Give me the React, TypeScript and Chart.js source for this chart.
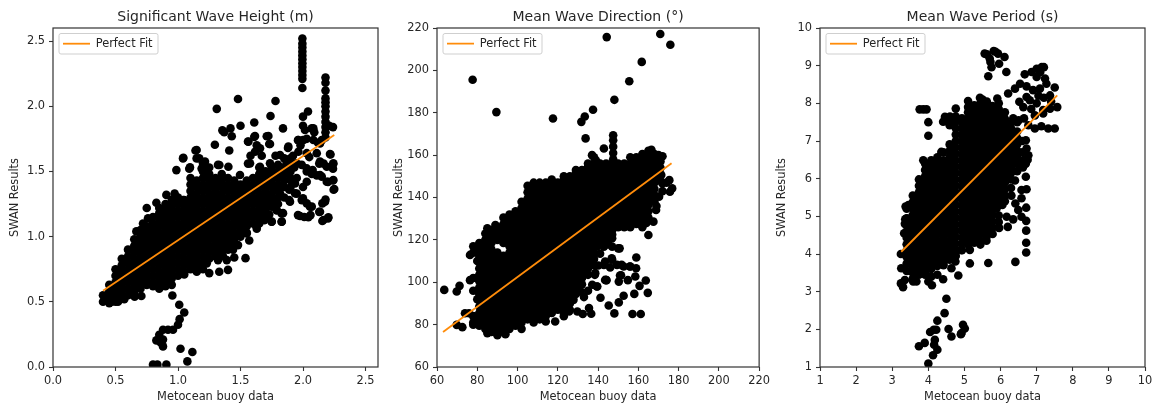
import React, { useEffect, useRef } from "react";
import { Chart, registerables } from "chart.js";

Chart.register(...registerables);

type Column = [number, number[]];
type Pair = [number, number];

// ---- Significant Wave Height ----
const hsCore: Column[] = [
  [0.4, [0.5, 0.55]],
  [0.45, [0.49, 0.53, 0.58, 0.63]],
  [0.5, [0.5, 0.55, 0.6, 0.65, 0.7, 0.75]],
  [0.55, [0.53, 0.58, 0.63, 0.68, 0.73, 0.78, 0.83]],
  [0.6, [0.55, 0.6, 0.65, 0.7, 0.75, 0.8, 0.85, 0.9]],
  [0.65, [0.55, 0.58, 0.63, 0.68, 0.73, 0.78, 0.83, 0.88, 0.93, 0.98]],
  [0.7, [0.6, 0.65, 0.7, 0.75, 0.8, 0.85, 0.9, 0.95, 1.0, 1.05]],
  [0.75, [0.63, 0.68, 0.73, 0.78, 0.83, 0.88, 0.93, 0.98, 1.03, 1.08]],
  [0.8, [0.62, 0.65, 0.7, 0.75, 0.8, 0.85, 0.9, 0.95, 1.0, 1.05, 1.1, 1.15]],
  [0.85, [0.6, 0.63, 0.68, 0.73, 0.78, 0.83, 0.88, 0.93, 0.98, 1.03, 1.08, 1.13, 1.18]],
  [0.9, [0.62, 0.65, 0.7, 0.75, 0.8, 0.85, 0.9, 0.95, 1.0, 1.05, 1.1, 1.15, 1.2, 1.25]],
  [0.95, [0.63, 0.68, 0.73, 0.78, 0.83, 0.88, 0.93, 0.98, 1.03, 1.08, 1.13, 1.18, 1.23, 1.28]],
  [1.0, [0.7, 0.75, 0.8, 0.85, 0.9, 0.95, 1.0, 1.05, 1.1, 1.15, 1.2, 1.25, 1.3]],
  [1.05, [0.71, 0.73, 0.78, 0.83, 0.88, 0.93, 0.98, 1.03, 1.08, 1.13, 1.18, 1.23, 1.28]],
  [1.1, [0.75, 0.8, 0.85, 0.9, 0.95, 1.0, 1.05, 1.1, 1.15, 1.2, 1.25, 1.3, 1.35, 1.4, 1.45]],
  [1.15, [0.73, 0.78, 0.83, 0.88, 0.93, 0.98, 1.03, 1.08, 1.13, 1.18, 1.23, 1.28, 1.33, 1.38, 1.43]],
  [1.2, [0.75, 0.8, 0.85, 0.9, 0.95, 1.0, 1.05, 1.1, 1.15, 1.2, 1.25, 1.3, 1.35, 1.4, 1.45, 1.5]],
  [1.25, [0.83, 0.88, 0.93, 0.98, 1.03, 1.08, 1.13, 1.18, 1.23, 1.28, 1.33, 1.38, 1.43, 1.48, 1.53]],
  [1.3, [0.85, 0.9, 0.95, 1.0, 1.05, 1.1, 1.15, 1.2, 1.25, 1.3, 1.35, 1.4, 1.45]],
  [1.35, [0.88, 0.93, 0.98, 1.03, 1.08, 1.13, 1.18, 1.23, 1.28, 1.33, 1.38, 1.43, 1.48]],
  [1.4, [0.9, 0.95, 1.0, 1.05, 1.1, 1.15, 1.2, 1.25, 1.3, 1.35, 1.4, 1.45]],
  [1.45, [0.93, 0.98, 1.03, 1.08, 1.13, 1.18, 1.23, 1.28, 1.33, 1.38, 1.43]],
  [1.5, [1.0, 1.05, 1.1, 1.15, 1.2, 1.25, 1.3, 1.35, 1.4]],
  [1.55, [1.03, 1.08, 1.13, 1.18, 1.23, 1.28, 1.33, 1.38, 1.43]],
  [1.6, [1.1, 1.15, 1.2, 1.25, 1.3, 1.35, 1.4, 1.45]],
  [1.65, [1.13, 1.18, 1.23, 1.28, 1.33, 1.38, 1.43, 1.48, 1.53]],
  [1.7, [1.15, 1.2, 1.25, 1.3, 1.35, 1.4, 1.45, 1.5]],
  [1.75, [1.23, 1.28, 1.33, 1.38, 1.43, 1.48, 1.53]],
  [1.8, [1.25, 1.3, 1.35, 1.4, 1.45, 1.5, 1.55]],
  [1.85, [1.3, 1.38, 1.43, 1.48, 1.53, 1.6]],
  [1.9, [1.38, 1.45, 1.5, 1.55, 1.6]],
];
const hsScattered: Pair[] = [
  [1.995, 2.14], [1.995, 2.21], [1.995, 2.24], [1.995, 2.27], [1.995, 2.3], [1.995, 2.33], [1.995, 2.36],
  [1.995, 2.39], [1.995, 2.42], [1.995, 2.45], [1.995, 2.48], [1.995, 2.52],
  [2.18, 2.22], [2.18, 2.18], [2.18, 2.12], [2.18, 2.06], [2.18, 2.03], [2.18, 2.0], [2.18, 1.96], [2.18, 1.92],
  [2.18, 1.88], [2.18, 1.84], [2.18, 1.8], [2.18, 1.76],
  [1.48, 2.055], [1.78, 2.04], [1.31, 1.98], [1.74, 1.925], [2.0, 1.92], [2.04, 1.96], [1.355, 1.815], [1.42, 1.83],
  [1.5, 1.85], [1.61, 1.875], [1.84, 1.83], [1.43, 1.77], [1.37, 1.8], [1.295, 1.705], [1.41, 1.66], [1.14, 1.66],
  [1.61, 1.765], [1.56, 1.73], [1.71, 1.77], [1.73, 1.71], [1.63, 1.7], [1.88, 1.68], [1.96, 1.74], [2.0, 1.85],
  [2.0, 1.74], [2.07, 1.83], [2.09, 1.8], [2.21, 1.85], [2.24, 1.84], [2.22, 1.63], [2.24, 1.555], [2.24, 1.52],
  [2.24, 1.43], [2.245, 1.36], [2.2, 1.42], [2.165, 1.56], [2.13, 1.56], [2.11, 1.64], [2.05, 1.61], [1.04, 1.6],
  [0.987, 1.51], [1.09, 1.52], [1.17, 1.6], [1.2, 1.56], [1.32, 1.55], [1.56, 1.56], [1.58, 1.62], [1.67, 1.62],
  [1.78, 1.62], [1.92, 1.62], [1.98, 1.7], [2.03, 1.75], [2.12, 1.72], [2.15, 1.74],
  [1.89, 1.28], [1.95, 1.33], [2.0, 1.38], [2.07, 1.48], [2.15, 1.46], [1.99, 1.28], [2.03, 1.255], [1.96, 1.165],
  [2.01, 1.15], [2.06, 1.165], [2.13, 1.19], [2.155, 1.255], [2.18, 1.285], [2.155, 1.12], [2.2, 1.14], [2.07, 1.23],
  [1.84, 1.18], [1.83, 1.115], [1.75, 1.115], [1.69, 1.125], [1.63, 1.06], [1.54, 0.835], [1.45, 0.84], [1.48, 0.935],
  [1.39, 0.82], [1.4, 0.745], [1.33, 0.73], [1.25, 0.72], [1.32, 0.82], [1.23, 0.795], [1.55, 1.025], [1.79, 1.2],
  [1.89, 1.36], [1.95, 1.45], [1.93, 1.53], [1.99, 1.55], [2.03, 1.5], [2.11, 1.47], [1.57, 0.97], [1.65, 1.1],
  [1.73, 1.17], [1.36, 0.85], [1.44, 0.9],
  [0.955, 0.548], [1.01, 0.477], [1.05, 0.418], [1.013, 0.367], [1.0, 0.324], [0.96, 0.286], [0.92, 0.286], [0.88, 0.286],
  [0.85, 0.247], [0.827, 0.204], [0.88, 0.21], [0.86, 0.19], [0.88, 0.158], [1.02, 0.14], [1.115, 0.115], [1.075, 0.043],
  [0.8, 0.018], [0.835, 0.018], [0.907, 0.018],
  [0.75, 1.22], [0.827, 1.26], [0.907, 1.32], [0.973, 1.33], [0.76, 1.14], [0.667, 1.04], [1.04, 1.28], [0.653, 0.54],
  [0.707, 0.545], [0.42, 0.52], [0.47, 0.5], [0.52, 0.5], [0.57, 0.52], [0.85, 1.22], [0.72, 1.1],
  [1.563, 1.728], [1.616, 1.772], [1.723, 1.772], [1.736, 1.71], [1.616, 1.651], [1.656, 1.677], [1.883, 1.69], [1.963, 1.741],
  [1.963, 1.651], [2.016, 1.818], [2.083, 1.83], [2.083, 1.741], [2.136, 1.715], [2.03, 1.64], [2.136, 1.575], [2.216, 1.633],
  [2.19, 1.536], [2.243, 1.562], [2.243, 1.434], [2.25, 1.365], [2.077, 1.511], [2.136, 1.472], [2.19, 1.421], [2.03, 1.523],
  [1.949, 1.562], [1.816, 1.626], [1.736, 1.562], [1.576, 1.562], [1.496, 1.472], [1.656, 1.536], [1.869, 1.562],
  [1.331, 1.549], [1.403, 1.536], [1.149, 1.664], [1.216, 1.575], [1.149, 1.6], [1.096, 1.531], [1.189, 1.523], [1.043, 1.605],
  [2.03, 1.421], [1.936, 1.332], [1.896, 1.268], [2.0, 1.293], [2.056, 1.229], [2.136, 1.191], [1.976, 1.158], [2.043, 1.148],
  [2.176, 1.268], [2.163, 1.127], [2.203, 1.148], [1.829, 1.178], [1.829, 1.114], [1.749, 1.114], [1.704, 1.148], [1.629, 1.076],
  [1.789, 1.204], [1.736, 1.255], [1.936, 1.408], [1.816, 1.332], [1.896, 1.434],
];
const hsFit: Pair[] = [[0.4, 0.585], [2.25, 1.78]];

// ---- Mean Wave Direction ----
const dirCore: Column[] = [
  [78, [81, 84, 96, 102, 114, 117]],
  [81, [79.5, 82.5, 85.5, 88.5, 91.5, 94.5, 97.5, 100.5, 103.5, 106.5, 109.5, 112.5, 115.5, 118.5]],
  [84, [78, 81, 84, 87, 90, 93, 96, 99, 102, 105, 108, 111, 114, 117, 120, 123]],
  [87, [76.5, 79.5, 82.5, 85.5, 88.5, 91.5, 94.5, 97.5, 100.5, 103.5, 106.5, 109.5, 112.5, 115.5, 118.5, 121.5, 124.5]],
  [90, [75, 78, 81, 84, 87, 90, 93, 96, 99, 102, 105, 108, 111, 114, 120, 123, 126]],
  [93, [76.5, 79.5, 82.5, 85.5, 88.5, 91.5, 94.5, 97.5, 100.5, 103.5, 106.5, 109.5, 112.5, 118.5, 121.5, 124.5, 127.5, 130.5]],
  [96, [78, 81, 84, 87, 90, 93, 96, 99, 102, 105, 108, 111, 114, 117, 120, 123, 126, 129, 132]],
  [99, [79.5, 82.5, 85.5, 88.5, 91.5, 94.5, 97.5, 100.5, 103.5, 106.5, 109.5, 112.5, 115.5, 118.5, 121.5, 124.5, 127.5, 130.5, 133.5]],
  [102, [81, 84, 87, 90, 93, 96, 99, 102, 105, 108, 111, 114, 117, 120, 123, 126, 129, 132, 135, 138]],
  [105, [82.5, 85.5, 88.5, 91.5, 94.5, 97.5, 100.5, 103.5, 106.5, 109.5, 112.5, 115.5, 118.5, 121.5, 124.5, 127.5, 130.5, 133.5, 136.5, 139.5, 142.5, 145.5]],
  [108, [84, 87, 90, 93, 96, 99, 102, 105, 108, 111, 114, 117, 120, 123, 126, 129, 132, 135, 138, 141, 144]],
  [111, [82.5, 85.5, 88.5, 91.5, 94.5, 97.5, 100.5, 103.5, 106.5, 109.5, 112.5, 115.5, 118.5, 121.5, 124.5, 127.5, 130.5, 133.5, 136.5, 139.5, 142.5, 145.5, 147]],
  [114, [84, 87, 90, 93, 96, 99, 102, 105, 108, 111, 114, 117, 120, 123, 126, 129, 132, 135, 138, 141, 144, 147]],
  [117, [85.5, 88.5, 91.5, 94.5, 97.5, 100.5, 103.5, 106.5, 109.5, 112.5, 115.5, 118.5, 121.5, 124.5, 127.5, 130.5, 133.5, 136.5, 139.5, 142.5, 145.5, 148.5]],
  [120, [87, 90, 93, 96, 99, 102, 105, 108, 111, 114, 117, 120, 123, 126, 129, 132, 135, 138, 141, 144, 147]],
  [123, [85.5, 88.5, 91.5, 94.5, 97.5, 100.5, 103.5, 106.5, 109.5, 112.5, 115.5, 118.5, 121.5, 124.5, 127.5, 130.5, 133.5, 136.5, 139.5, 142.5, 145.5, 148.5, 150]],
  [126, [87, 90, 93, 96, 99, 102, 105, 108, 111, 114, 117, 120, 123, 126, 129, 132, 135, 138, 141, 144, 147, 150]],
  [129, [94.5, 97.5, 100.5, 103.5, 106.5, 109.5, 112.5, 115.5, 118.5, 121.5, 124.5, 127.5, 130.5, 133.5, 136.5, 139.5, 142.5, 145.5, 148.5, 151.5, 153]],
  [132, [99, 102, 105, 108, 111, 114, 117, 120, 123, 126, 129, 132, 135, 138, 141, 144, 147, 150, 153]],
  [135, [103.5, 106.5, 109.5, 112.5, 115.5, 118.5, 121.5, 124.5, 127.5, 130.5, 133.5, 136.5, 139.5, 142.5, 145.5, 148.5, 151.5, 154.5, 156]],
  [138, [108, 111, 114, 120, 123, 126, 129, 132, 135, 138, 141, 144, 147, 150, 153, 156, 159]],
  [141, [113.5, 118.5, 121.5, 124.5, 127.5, 130.5, 133.5, 136.5, 139.5, 142.5, 145.5, 148.5, 151.5, 154.5, 156]],
  [144, [120, 123, 126, 129, 132, 135, 138, 141, 144, 147, 150, 153, 156]],
  [147, [122.5, 124.5, 127.5, 130.5, 133.5, 136.5, 139.5, 142.5, 145.5, 148.5, 151.5, 154.5, 156]],
  [150, [126, 129, 132, 135, 138, 141, 144, 147, 150, 153, 156]],
  [153, [126, 127.5, 130.5, 133.5, 136.5, 139.5, 142.5, 145.5, 148.5, 151.5, 154.5, 156]],
  [156, [126, 129, 132, 135, 138, 141, 144, 147, 150, 153, 156, 159]],
  [159, [127.5, 130.5, 133.5, 136.5, 139.5, 142.5, 145.5, 148.5, 151.5, 154.5, 157.5, 159]],
  [162, [129, 132, 135, 138, 141, 144, 147, 150, 153, 156, 159, 160.5]],
  [165, [130.5, 133.5, 136.5, 139.5, 142.5, 145.5, 148.5, 151.5, 154.5, 157.5, 160.5, 162]],
  [168, [138, 141, 144, 147, 150, 153, 156, 159, 160.5]],
  [171, [148, 151, 154, 157, 159]],
];
const dirScattered: Pair[] = [
  [144.3, 215.7], [170.9, 217.2], [175.9, 212.1], [161.7, 204], [155.5, 194.9], [148.1, 186.1], [77.7, 195.6],
  [89.5, 180.3], [117.6, 177.3], [137.5, 181.4], [133.4, 178.2], [131.7, 175.7], [133.8, 167.9], [142.9, 163.1],
  [147.5, 169.4], [147.5, 167], [147.5, 164], [147.5, 161], [147.5, 158], [137, 160], [139, 157.5], [166.5, 162.5],
  [63.6, 96.4], [71.2, 98.3], [69.8, 95.6], [73.9, 85.4], [75.9, 85.4], [69.8, 79.9], [72.6, 78.8], [78, 80],
  [76.4, 101], [76.4, 112.9], [79, 116], [80, 110], [82, 105], [80, 92], [81, 96], [85, 125.5], [89, 127],
  [159, 111.7], [158.9, 106.6], [158.5, 102.7], [163.7, 100.8], [160.6, 98.3], [164.7, 95], [158, 94.5], [157.1, 85],
  [161.2, 85], [148.1, 85.3], [145.3, 89], [150.3, 90.5], [152.7, 93.6], [141.2, 92.7], [144.2, 101], [150.3, 100.3],
  [151.4, 103.3], [154.8, 101], [140.1, 107.9], [138.4, 103.5], [137.1, 98.8], [135.5, 87.8], [136.6, 85.1], [132.4, 85],
  [129.7, 86.2], [125.6, 86.2], [118.7, 81.5], [114, 81.5], [127.8, 91.7], [131.4, 95.6], [139.6, 98], [142.9, 108.2],
  [147, 110.6], [149.4, 108.2], [152.7, 107.4], [156, 107.4], [150.7, 116], [147, 116.8], [142.9, 116.8], [139.6, 117],
  [136.3, 114.5], [147, 120.8], [165, 122.3], [167.5, 128.6], [168.8, 134.1], [170.3, 140.4], [175.7, 142.7],
  [176.8, 144.3], [175.4, 148.2], [171.9, 146.7], [171.4, 150.6], [146, 107], [144, 101], [135, 96], [133, 93],
  [123, 84], [108, 81], [102, 78], [94, 75.5], [85, 76], [106, 138], [108, 147], [164, 128], [162, 126], [170, 160],
  [172, 159.5], [174, 147], [172, 143], [169, 136],
  [146.8, 111.3], [143.5, 109.8], [151.7, 108.2], [155.8, 107.4], [138.6, 104.3], [143.5, 101.1], [150.9, 103.2], [139.4, 98],
  [150, 116], [145, 118], [141, 119], [137, 117],
];
const dirFit: Pair[] = [[63, 76.5], [176.5, 156.2]];

// ---- Mean Wave Period ----
const periodCore: Column[] = [
  [3.4, [3.75, 3.92, 4.09, 4.26, 4.43, 4.6, 4.77, 4.94, 5.2]],
  [3.57, [3.35, 3.51, 3.68, 3.85, 4.02, 4.19, 4.36, 4.53, 4.7, 4.87, 5.04, 5.21, 5.38, 5.55]],
  [3.74, [3.45, 3.6, 3.77, 3.94, 4.11, 4.28, 4.45, 4.62, 4.79, 4.96, 5.13, 5.3, 5.47, 5.64, 5.81, 5.98]],
  [3.91, [3.45, 3.51, 3.68, 3.85, 4.02, 4.19, 4.36, 4.53, 4.7, 4.87, 5.04, 5.21, 5.38, 5.55, 5.72, 5.89, 6.06, 6.23, 6.4]],
  [4.08, [3.4, 3.6, 3.77, 3.94, 4.11, 4.28, 4.45, 4.62, 4.79, 4.96, 5.13, 5.3, 5.47, 5.64, 5.81, 5.98, 6.15, 6.32, 6.49]],
  [4.25, [3.45, 3.68, 3.85, 4.02, 4.19, 4.36, 4.53, 4.7, 4.87, 5.04, 5.21, 5.38, 5.55, 5.72, 5.89, 6.06, 6.23, 6.4, 6.57]],
  [4.42, [3.7, 3.77, 3.94, 4.11, 4.28, 4.45, 4.62, 4.79, 4.96, 5.13, 5.3, 5.47, 5.64, 5.81, 5.98, 6.15, 6.32, 6.49, 6.7]],
  [4.59, [3.85, 4.02, 4.19, 4.36, 4.53, 4.7, 4.87, 5.04, 5.21, 5.38, 5.55, 5.72, 5.89, 6.06, 6.23, 6.4, 6.57, 6.74, 6.91, 7.42, 7.55]],
  [4.76, [3.95, 4.11, 4.28, 4.45, 4.62, 4.79, 4.96, 5.13, 5.3, 5.47, 5.64, 5.81, 5.98, 6.15, 6.32, 6.49, 6.66, 6.83, 7.0, 7.17, 7.34, 7.51, 7.65]],
  [4.93, [4.1, 4.27, 4.44, 4.61, 4.78, 4.95, 5.12, 5.29, 5.46, 5.63, 5.8, 5.97, 6.14, 6.31, 6.48, 6.65, 6.82, 6.99, 7.16, 7.33, 7.5, 7.6]],
  [5.1, [4.25, 4.36, 4.53, 4.7, 4.87, 5.04, 5.21, 5.38, 5.55, 5.72, 5.89, 6.06, 6.23, 6.4, 6.57, 6.74, 6.91, 7.08, 7.25, 7.42, 7.59, 7.76, 7.9]],
  [5.27, [4.3, 4.45, 4.62, 4.79, 4.96, 5.13, 5.3, 5.47, 5.64, 5.81, 5.98, 6.15, 6.32, 6.49, 6.66, 6.83, 7.0, 7.17, 7.34, 7.51, 7.68, 7.85, 7.95]],
  [5.44, [4.25, 4.36, 4.53, 4.7, 4.87, 5.04, 5.21, 5.38, 5.55, 5.72, 5.89, 6.06, 6.23, 6.4, 6.57, 6.74, 6.91, 7.08, 7.25, 7.42, 7.59, 7.76, 7.93, 8.0]],
  [5.61, [4.35, 4.45, 4.62, 4.79, 4.96, 5.13, 5.3, 5.47, 5.64, 5.81, 5.98, 6.15, 6.32, 6.49, 6.66, 6.83, 7.0, 7.17, 7.34, 7.51, 7.68, 7.85, 8.0]],
  [5.78, [4.53, 4.7, 4.87, 5.04, 5.21, 5.38, 5.55, 5.72, 5.89, 6.06, 6.23, 6.4, 6.57, 6.74, 6.91, 7.08, 7.25, 7.42, 7.59, 7.76, 7.93]],
  [5.95, [4.7, 4.85, 5.02, 5.3, 5.47, 5.64, 5.81, 5.98, 6.15, 6.32, 6.49, 6.66, 6.83, 7.0, 7.17, 7.34, 7.51, 7.68, 7.85, 8.0]],
  [6.12, [5.4, 5.55, 5.72, 5.89, 6.06, 6.23, 6.4, 6.57, 6.74, 6.91, 7.08, 7.25, 7.42, 7.59, 7.76]],
  [6.29, [5.75, 5.98, 6.15, 6.32, 6.49, 6.66, 6.83, 7.0, 7.17, 7.34, 7.5]],
  [6.46, [6.2, 6.4, 6.57, 6.74, 6.91, 7.08, 7.25, 7.5]],
];
const periodScattered: Pair[] = [
  [5.56, 9.32], [5.81, 9.39], [5.93, 9.32], [5.7, 9.19], [5.75, 8.96], [5.96, 9.05], [6.11, 9.23], [6.16, 8.83], [5.66, 8.72],
  [5.62, 9.3], [5.72, 9.1], [5.86, 9.37],
  [7.14, 8.96], [7.0, 8.92], [6.86, 8.83], [6.67, 8.77], [6.54, 8.52], [6.72, 8.45], [6.4, 8.39], [6.21, 8.26], [6.52, 8.04],
  [6.72, 8.17], [6.9, 8.35], [7.09, 8.39], [7.27, 8.52], [7.5, 8.42], [7.37, 8.21], [7.23, 8.66], [7.0, 8.7], [7.57, 7.9],
  [7.37, 7.86], [7.18, 7.82], [7.0, 8.0], [6.81, 8.08], [6.63, 7.9], [7.5, 7.33], [7.32, 7.33], [7.13, 7.39], [6.95, 7.33],
  [6.77, 7.42], [7.18, 7.73], [6.95, 7.68], [7.2, 8.96], [7.1, 8.83], [6.35, 7.6], [6.5, 7.55], [6.65, 7.6], [6.85, 7.85],
  [7.2, 8.15], [7.4, 8.05], [7.05, 8.2],
  [3.86, 7.84], [3.76, 7.84], [3.95, 7.84], [4.0, 7.5], [4.0, 7.14],
  [6.7, 7.02], [6.7, 6.4], [6.77, 6.62], [6.7, 6.05], [6.72, 5.72], [6.58, 5.7], [6.58, 5.48], [6.41, 5.34], [6.71, 5.23],
  [6.49, 5.17], [6.35, 4.92], [6.58, 4.99], [6.17, 4.99], [6.71, 4.88], [6.71, 4.62], [6.71, 4.3], [6.71, 4.04], [6.41, 3.79],
  [5.66, 3.76], [6.2, 4.72], [5.96, 4.69], [5.89, 5.21], [5.15, 3.75], [4.83, 3.43], [4.75, 3.8], [4.41, 3.33], [4.1, 3.17],
  [4.64, 3.62], [5.15, 4.11], [4.92, 4.11], [6.6, 6.7], [6.55, 6.4], [6.4, 5.95], [6.65, 6.5], [6.3, 5.55], [6.05, 5.3],
  [3.3, 3.12], [3.24, 3.22], [3.35, 3.31], [3.25, 3.62], [3.24, 4.0], [3.58, 3.27], [3.67, 3.27], [4.0, 3.27],
  [3.33, 4.55], [3.35, 4.8], [3.36, 4.92], [3.37, 5.26], [3.5, 3.55], [3.4, 3.55],
  [4.5, 2.81], [4.45, 2.43], [4.25, 2.23], [4.22, 1.99], [4.05, 1.93], [4.18, 1.72], [4.16, 1.59], [4.25, 1.46], [4.13, 1.31],
  [4.0, 1.09], [3.9, 1.64], [3.74, 1.55], [4.56, 2.01], [4.64, 1.81], [4.9, 1.87], [4.96, 2.12], [5.01, 2.02], [4.92, 1.9], [4.15, 1.99],
  [4.76, 7.86], [5.1, 8.06], [5.43, 8.15], [5.91, 8.13], [4.46, 7.64], [4.41, 7.51], [3.86, 6.49], [4.36, 6.71], [4.6, 7.65],
  [5.5, 8.1], [5.62, 8.05], [6.6, 7.0], [6.72, 6.8], [6.75, 6.5], [6.62, 6.3], [3.45, 5.3], [3.4, 4.95], [3.45, 4.46],
];
const periodFit: Pair[] = [[3.25, 4.06], [7.57, 8.21]];

const panels = [
  { title: "Significant Wave Height (m)", core: hsCore, scattered: hsScattered, fit: hsFit, min: 0, max: 2.6, step: 0.5, digits: 1, left: 0 },
  { title: "Mean Wave Direction (°)", core: dirCore, scattered: dirScattered, fit: dirFit, min: 60, max: 220, step: 20, digits: 0, left: 384 },
  { title: "Mean Wave Period (s)", core: periodCore, scattered: periodScattered, fit: periodFit, min: 1, max: 10, step: 1, digits: 0, left: 767 },
];

const FONT = "'DejaVu Sans'";
const TEXT = "#262626";
const ORANGE = "#ff8c0a";
const CANVAS_W = 389;
const CANVAS_H = 406;

const framePlugin = {
  id: "mplFrame",
  beforeDraw(chart: any) {
    const { ctx, chartArea: a, legend } = chart;
    // A legend placed in the chart area keeps its top at 0 unless it is moved down.
    legend.top = a.top;
    legend.bottom = a.top + legend.height;
    ctx.save();
    ctx.strokeStyle = "#cfcfcf";
    ctx.lineWidth = 1;
    ctx.beginPath();
    ctx.roundRect(a.left + 6, a.top + 5.5, 99, 20.5, 2);
    ctx.stroke();
    ctx.restore();
  },
  afterDraw(chart: any) {
    const { ctx, chartArea: a } = chart;
    ctx.save();
    ctx.strokeStyle = "#333";
    ctx.lineWidth = 1.2;
    ctx.strokeRect(a.left, a.top, a.right - a.left, a.bottom - a.top);
    ctx.restore();
  },
};

function Panel({ panel }: { panel: (typeof panels)[number] }) {
  const ref = useRef<HTMLCanvasElement>(null);
  useEffect(() => {
    const points = [
      ...panel.core.flatMap(([x, ys]) => ys.map((y) => ({ x, y }))),
      ...panel.scattered.map(([x, y]) => ({ x, y })),
    ];
    const axis = (label: string, pad: number, tickPad: number, size: number, horizontal: boolean) => ({
      type: "linear" as const,
      min: panel.min,
      max: panel.max,
      afterFit(scale: any) {
        if (horizontal) scale.height = size;
        else scale.width = size;
      },
      title: {
        display: true,
        text: label,
        color: TEXT,
        font: { family: FONT, size: 11.4 },
        padding: { top: pad, bottom: pad },
      },
      border: { display: false },
      grid: { display: true, drawOnChartArea: false, drawTicks: true, tickLength: 4, tickColor: "#333", tickWidth: 1.1 },
      ticks: {
        stepSize: panel.step,
        includeBounds: false,
        autoSkip: false,
        maxRotation: 0,
        padding: tickPad,
        color: TEXT,
        font: { family: FONT, size: 11.4 },
        callback: (v: any) => Number(v).toFixed(panel.digits),
      },
    });
    const chart = new Chart(ref.current!, {
      type: "scatter",
      data: {
        datasets: [
          {
            label: "Perfect Fit",
            data: panel.fit.map(([x, y]) => ({ x, y })),
            showLine: true,
            pointRadius: 0,
            borderColor: ORANGE,
            backgroundColor: ORANGE,
            borderWidth: 1.8,
            pointStyle: "line",
          },
          {
            label: "points",
            data: points,
            pointRadius: 4.3,
            pointBorderWidth: 0,
            pointBackgroundColor: "#000",
            showLine: false,
          },
        ],
      },
      plugins: [framePlugin],
      options: {
        animation: false,
        responsive: false,
        layout: { padding: { left: 0, right: CANVAS_W - 378, top: 0, bottom: 0 } },
        scales: {
          x: axis("Metocean buoy data", 2.4, 3, 39, true),
          y: axis("SWAN Results", 8.4, 4, 53, false),
        },
        plugins: {
          tooltip: { enabled: false },
          title: {
            display: true,
            fullSize: false,
            text: panel.title,
            color: TEXT,
            font: { family: FONT, size: 14, weight: "normal" },
            padding: { top: 8.6, bottom: 2.6 },
          },
          legend: {
            position: "chartArea",
            align: "start",
            labels: {
              usePointStyle: true,
              pointStyleWidth: 27,
              padding: 10,
              color: TEXT,
              font: { family: FONT, size: 11.4 },
              filter: (item: any) => item.text === "Perfect Fit",
            },
          },
        },
      },
    } as any);
    return () => chart.destroy();
  }, [panel]);
  return (
    <canvas
      ref={ref}
      width={CANVAS_W}
      height={CANVAS_H}
      style={{ position: "absolute", left: panel.left, top: 0, width: CANVAS_W, height: CANVAS_H, filter: "blur(0.4px)" }}
    />
  );
}

export default function App() {
  return (
    <div style={{ position: "absolute", left: 0, top: 0, width: 1156, height: 406, overflow: "hidden", background: "#fff" }}>
      {panels.map((p) => (
        <Panel key={p.title} panel={p} />
      ))}
    </div>
  );
}
